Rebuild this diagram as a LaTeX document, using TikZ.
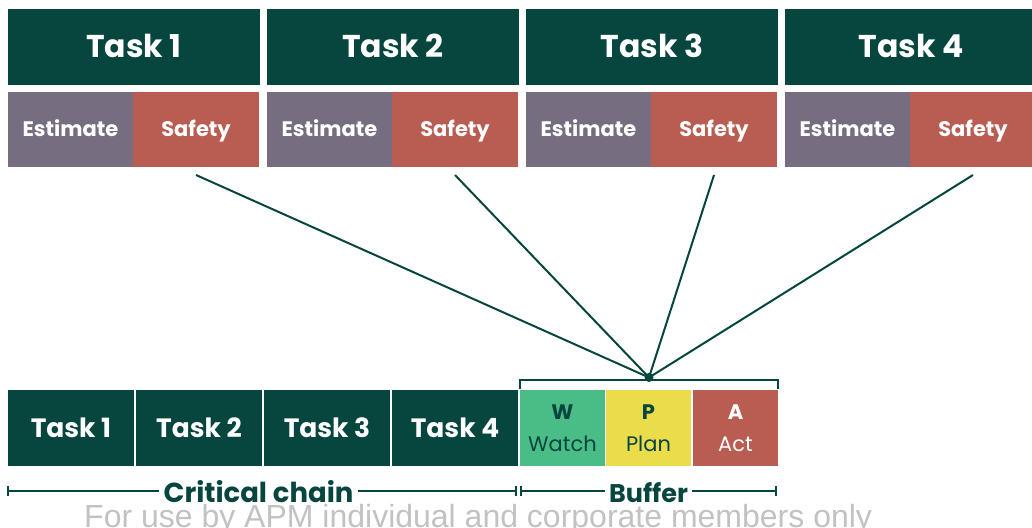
\documentclass[tikz,border=0pt]{standalone}
\usepackage{fontspec}
\setmainfont{Poppins}
\newfontfamily\wmfont{Liberation Sans}
\definecolor{apmteal}{HTML}{07463F}
\definecolor{estgrey}{HTML}{776D80}
\definecolor{safred}{HTML}{B95C51}
\definecolor{wgreen}{HTML}{4ABD86}
\definecolor{pyellow}{HTML}{EBDC4B}
\definecolor{wmgrey}{HTML}{C2C2C2}
\tikzset{
  cell/.style={inner sep=0pt, outer sep=0pt, text=white, text depth=0pt},
  hdr/.style={cell, fill=apmteal, minimum width=252pt, minimum height=75pt,
    text height=22pt, font=\bfseries\fontsize{31.5}{31.5}\selectfont},
  est/.style={cell, fill=estgrey, minimum width=125pt, minimum height=75pt,
    text height=14.7pt, font=\bfseries\fontsize{21}{21}\selectfont},
  saf/.style={cell, fill=safred, minimum width=126pt, minimum height=75pt,
    text height=14.7pt, font=\bfseries\fontsize{21}{21}\selectfont},
  chain/.style={cell, fill=apmteal, minimum width=126pt, minimum height=76pt,
    text height=18.5pt, font=\bfseries\fontsize{26.5}{26.5}\selectfont},
  buf/.style={inner sep=0pt, outer sep=0pt, minimum width=85pt,
    minimum height=76pt, align=center, font=\fontsize{21}{32}\selectfont},
  conn/.style={draw=apmteal, line width=2pt},
  brk/.style={draw=apmteal, line width=2.5pt},
  dim/.style={draw=apmteal, line width=2pt},
  dimlabel/.style={text=apmteal, inner sep=4pt, anchor=base},
}
\begin{document}
\begin{tikzpicture}[x=1pt,y=-1pt]
\useasboundingbox (0,0) rectangle (1032,527);
\clip (0,0) rectangle (1032,527);

% task headers with estimate + safety split
\foreach \i/\o in {1/0,2/259,3/518,4/777}{
  \node[hdr] (h\i) at (134+\o,47) {Task \i};
  \node[est] (e\i) at (70.5+\o,129.5) {Estimate};
  \node[saf] (s\i) at (196+\o,129.5) {Safety};
}

% critical chain
\node[chain] (c1) at (71,428) {Task 1};
\node[chain] (c2) at (199,428) {Task 2};
\node[chain] (c3) at (327,428) {Task 3};
\node[chain] (c4) at (455,428) {Task 4};

% buffer zones
\node[buf, fill=wgreen, text=apmteal] (bw) at (562.5,428) {\textbf{W}\\Watch};
\node[buf, fill=pyellow, text=apmteal] (bp) at (648.5,428) {\textbf{P}\\Plan};
\node[buf, fill=safred, text=white] (ba) at (735.5,428) {\textbf{A}\\Act};

% bracket over the buffer
\draw[brk] ([yshift=1pt]bw.north west) -- ([yshift=10pt]bw.north west)
  -- ([yshift=10pt]ba.north east) -- ([yshift=1pt]ba.north east);

% safety pooled into the buffer
\node[circle, fill=apmteal, inner sep=0pt, minimum size=9pt] (hub) at (649,377.5) {};
\foreach \i in {1,...,4}{
  \draw[conn] ([yshift=-8pt]s\i.south) -- (hub.center);
}

% dimension lines
\coordinate (ccL) at (8,491);
\coordinate (ccR) at (516,491);
\coordinate (bfL) at (521,491);
\coordinate (bfR) at (776,491);
\node[dimlabel, font=\bfseries\fontsize{27.5}{27.5}\selectfont] (cc) at (258.5,502.5) {Critical chain};
\node[dimlabel, font=\bfseries\fontsize{25.5}{25.5}\selectfont] (bf) at (648.5,502.5) {Buffer};
\draw[dim] (ccL) -- (cc.west |- ccL);
\draw[dim] (cc.east |- ccR) -- (ccR);
\draw[dim] (bfL) -- (bf.west |- bfL);
\draw[dim] (bf.east |- bfR) -- (bfR);
\foreach \c in {ccL,ccR,bfL,bfR}{
  \draw[dim] ([yshift=5pt]\c) -- ([yshift=-5pt]\c);
}

% footer notice
\node[anchor=base west, inner sep=0pt, text=wmgrey,
  font=\wmfont\fontsize{32}{32}\selectfont] (wm) at (84,527)
  {For use by APM individual and corporate members only};
\end{tikzpicture}
\end{document}
